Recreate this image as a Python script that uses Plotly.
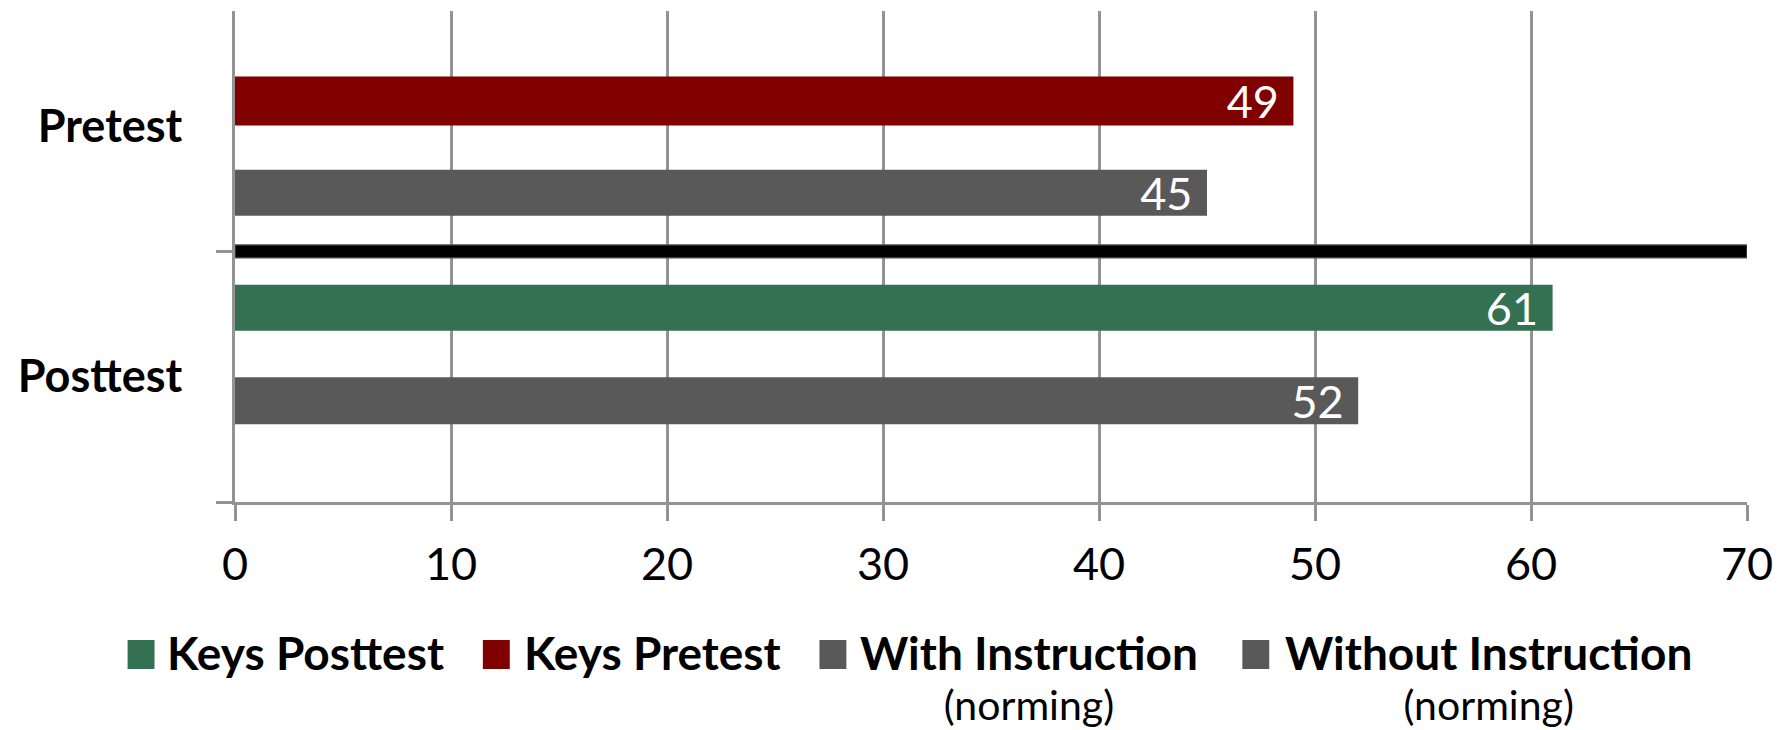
import plotly.graph_objects as go

# ---------------- data ----------------
categories = ["Posttest", "Pretest"]          # bottom -> top
series_names = ["Keys Posttest", "Keys Pretest", "With Instruction", "Without Instruction"]
series_notes = ["", "", "(norming)", "(norming)"]
series_category = ["Posttest", "Pretest", "Posttest", "Pretest"]
series_values = [61, 49, 52, 45]
x_tick_values = [0, 10, 20, 30, 40, 50, 60, 70]
x_range = [0, 70]

# ---------------- style ----------------
colors = ["#347152", "#800000", "#595959", "#595959"]
bar_offsets = [0.1835, 0.002, -0.19, -0.3575]
bar_widths = [0.1835, 0.196, 0.1875, 0.1835]

FONT = "Lato"
GRID = "#939393"
W, H = 1784, 730
ML, MR, MT, MB = 235, 33, 11, 228
PW, PH = W - ML - MR, H - MT - MB


def px_x(x):
    return (x - ML) / PW


def px_y(y):
    return (H - MB - y) / PH


fig = go.Figure()
for name, cat, val, col, off, wd in zip(series_names, series_category, series_values,
                                        colors, bar_offsets, bar_widths):
    fig.add_trace(go.Bar(
        x=[val], y=[cat], orientation="h", name=name,
        marker=dict(color=col, line=dict(width=0)),
        offset=off, width=wd,
        texttemplate="%{x}\u00a0", textposition="inside",
        insidetextanchor="end", textangle=0, constraintext="none",
        textfont=dict(family=FONT, size=45, color="white"),
        showlegend=False, hoverinfo="skip",
    ))

# separator line between the two categories
fig.add_shape(type="rect", xref="x", yref="y", x0=x_range[0], x1=x_range[1],
              y0=0.5 - 0.026, y1=0.5 + 0.026,
              fillcolor="black", line=dict(color="#505050", width=1.2), layer="above")

# ---------------- manual legend ----------------
sq_x = [127.3, 483.5, 821, 1245]
txt_x = [170, 527.7, 863.5, 1289]
txt_cx = [None, None, 1031, 1492]
LEG_TOP = 625
annotations = []
for i, name in enumerate(series_names):
    fig.add_shape(type="rect", xref="paper", yref="paper",
                  x0=px_x(sq_x[i]), x1=px_x(sq_x[i] + 27),
                  y0=px_y(669), y1=px_y(640),
                  fillcolor=colors[i], line=dict(width=0))
    if series_notes[i]:
        annotations.append(dict(
            xref="paper", yref="paper", x=px_x(txt_cx[i]), y=px_y(LEG_TOP),
            xanchor="center", yanchor="top", align="center", showarrow=False,
            text=(f"<span style='font-size:46px'><b>{name}</b></span><br>"
                  f"<span style='font-size:41px'>{series_notes[i]}</span>"),
            borderpad=0, borderwidth=0,
            font=dict(family=FONT, size=38.8, color="black")))
    else:
        annotations.append(dict(
            xref="paper", yref="paper", x=px_x(txt_x[i] - 3), y=px_y(LEG_TOP),
            xanchor="left", yanchor="top", showarrow=False,
            text=f"<b>{name}</b>", borderpad=0, borderwidth=0,
            font=dict(family=FONT, size=46, color="black")))

fig.update_layout(
    width=W, height=H,
    margin=dict(l=ML, r=MR, t=MT, b=MB, pad=0),
    paper_bgcolor="white", plot_bgcolor="white",
    barmode="overlay",
    annotations=annotations,
    xaxis=dict(
        range=x_range, tickvals=x_tick_values, showgrid=True, gridcolor=GRID, gridwidth=2.5,
        zeroline=False, showline=True, linecolor=GRID, linewidth=2.5,
        ticks="outside", ticklen=16, tickwidth=2.5, tickcolor=GRID,
        tickfont=dict(family=FONT, size=45, color="black"), ticklabelstandoff=5,
    ),
    yaxis=dict(
        type="category", categoryorder="array", categoryarray=categories,
        range=[-0.5, 1.4593], showgrid=False, zeroline=False,
        showline=True, linecolor=GRID, linewidth=2.5,
        ticks="outside", tickson="boundaries", ticklen=16, tickwidth=2.5, tickcolor=GRID,
        tickfont=dict(family=FONT, size=45, color="black", weight="bold"),
        ticklabelstandoff=41,
    ),
)

fig.write_html("out.html")
